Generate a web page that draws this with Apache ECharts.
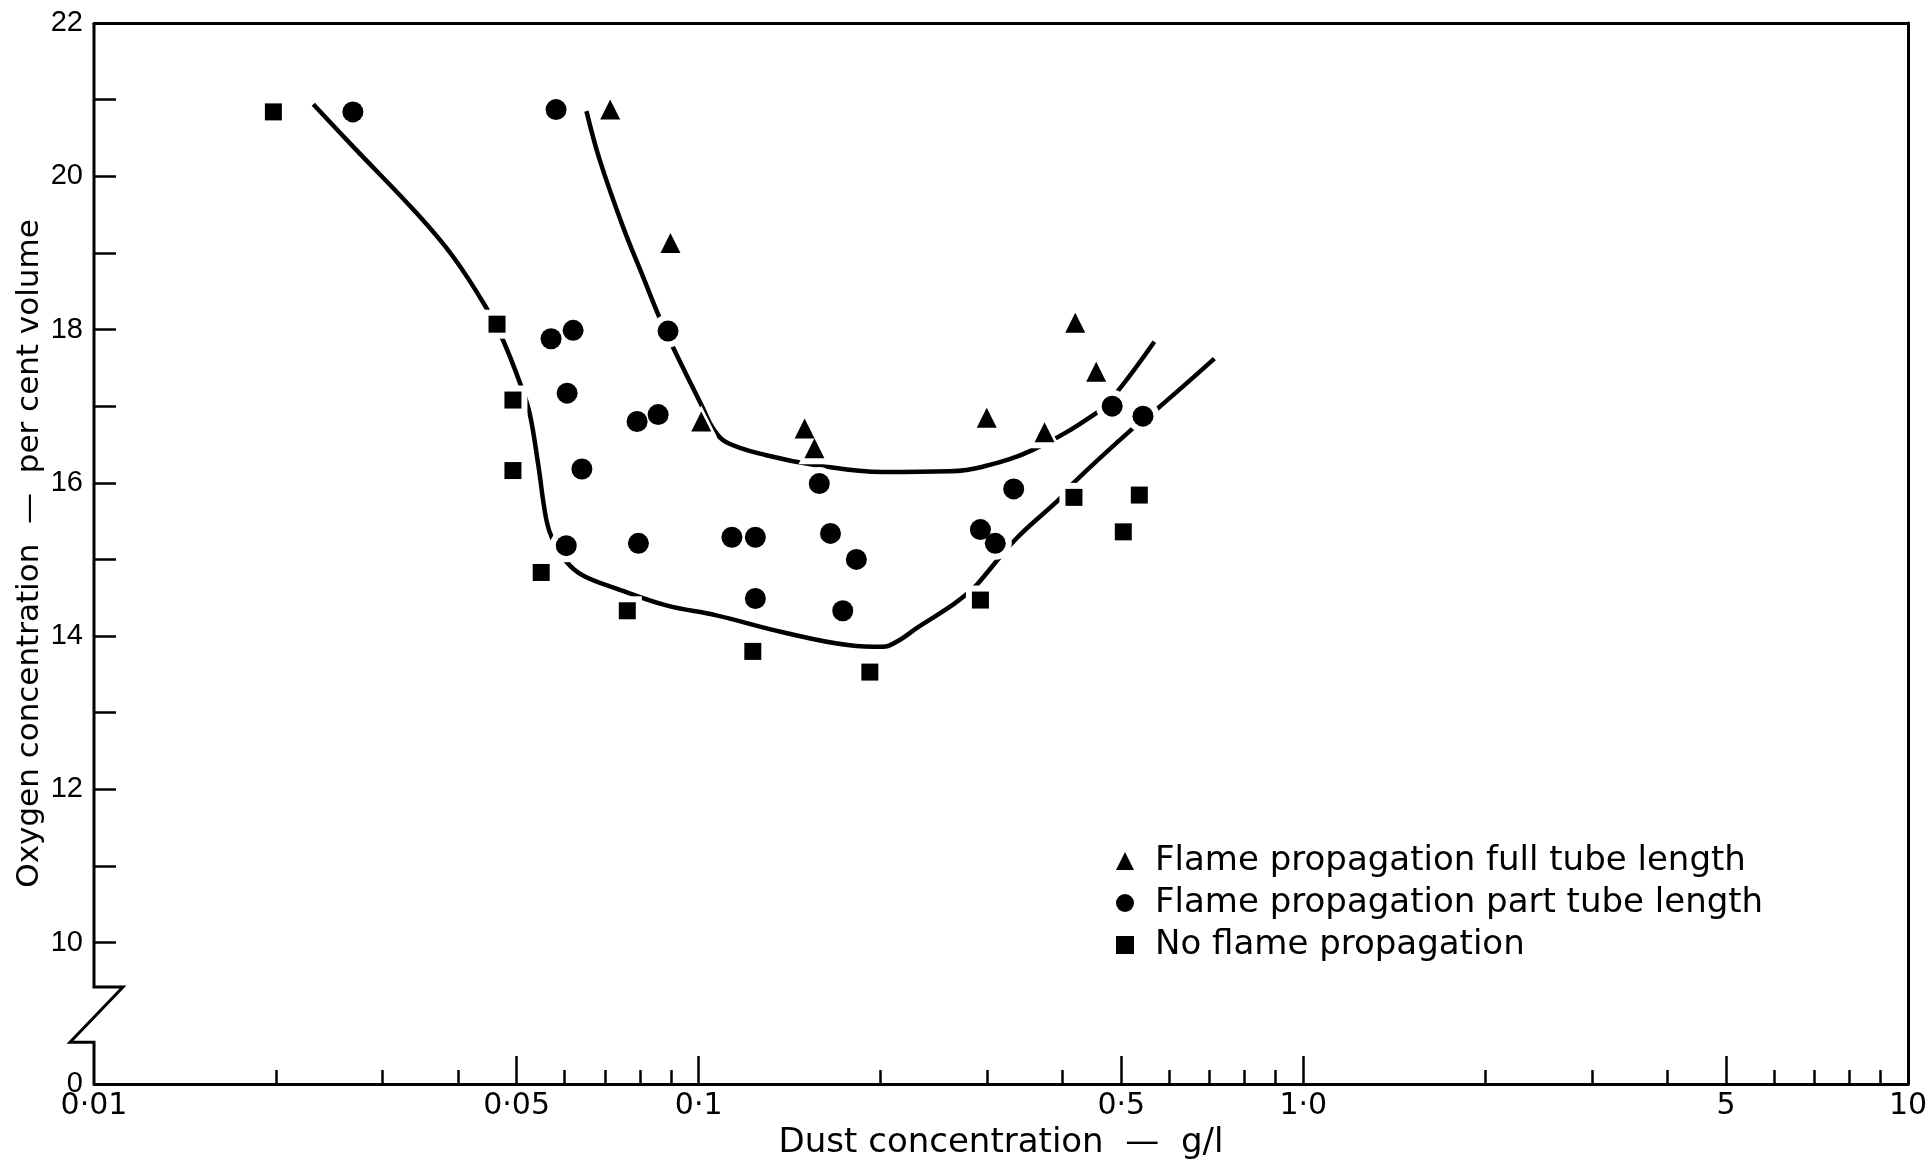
<!DOCTYPE html>
<html><head><meta charset="utf-8">
<script src="https://cdn.jsdelivr.net/npm/echarts@6/dist/echarts.min.js"></script>
<style>html,body{margin:0;padding:0;background:#fff}#c{width:1930px;height:1160px}</style>
</head><body><div id="c"></div>
<script>
// ---------------- data ----------------
const fullTubeX = [0.0714, 0.0898, 0.1010, 0.1497, 0.1554, 0.2995, 0.3733, 0.4196, 0.4544];
const fullTubeY = [20.87, 19.13, 16.80, 16.71, 16.45, 16.85, 16.66, 18.09, 17.45];

const partTubeX = [0.0268, 0.0581, 0.0570, 0.0620, 0.0606, 0.0641, 0.0604, 0.0791, 0.0857, 0.0890, 0.0795, 0.1135, 0.1241, 0.1241, 0.1583, 0.1652, 0.1823, 0.1731, 0.2924, 0.3094, 0.3319, 0.4829, 0.543];
const partTubeY = [20.84, 20.87, 17.88, 17.99, 17.17, 16.18, 15.18, 16.80, 16.89, 17.98, 15.21, 15.29, 15.29, 14.49, 15.99, 15.34, 15.00, 14.33, 15.39, 15.21, 15.92, 17.00, 16.87];

const noFlameX = [0.0198, 0.0464, 0.0493, 0.0493, 0.0549, 0.0762, 0.1229, 0.1919, 0.2924, 0.4175, 0.5038, 0.5355];
const noFlameY = [20.84, 18.07, 17.08, 16.16, 14.83, 14.33, 13.80, 13.53, 14.47, 15.81, 15.36, 15.84];

const upperCurveX = [0.06522, 0.06862, 0.07497, 0.08089, 0.08620, 0.09069, 0.1017, 0.1056, 0.1111, 0.1294, 0.1565, 0.2017, 0.2601, 0.2951, 0.3569, 0.4544, 0.4903, 0.5670];
const upperCurveY = [20.85, 20.21, 19.34, 18.69, 18.15, 17.77, 16.97, 16.71, 16.53, 16.36, 16.23, 16.14, 16.15, 16.21, 16.43, 16.91, 17.17, 17.84];

const lowerCurveX = [0.02305, 0.02680, 0.03415, 0.03926, 0.04458, 0.04748, 0.05092, 0.05256, 0.05425, 0.05601, 0.05742, 0.06043, 0.06437, 0.07311, 0.08844, 0.1070, 0.1378, 0.1777, 0.2017, 0.2150, 0.2290, 0.2601, 0.2787, 0.2877, 0.3350, 0.3977, 0.4157, 0.5224, 0.5742, 0.7127];
const lowerCurveY = [20.94, 20.39, 19.52, 18.95, 18.28, 17.86, 17.25, 16.90, 16.25, 15.51, 15.25, 14.97, 14.79, 14.62, 14.40, 14.27, 14.05, 13.88, 13.86, 13.95, 14.10, 14.38, 14.56, 14.66, 15.27, 15.81, 15.99, 16.71, 16.97, 17.62];

const seriesNames = ['Flame propagation full tube length', 'Flame propagation part tube length', 'No flame propagation'];

// x axis ticks / labels (log scale)
const xLabelValues = [0.01, 0.05, 0.1, 0.5, 1, 5, 10];
const xLabelTexts  = ['0·01', '0·05', '0·1', '0·5', '1·0', '5', '10'];
const xMajorTicks  = [0.05, 0.1, 0.5, 1, 5];
const xMinorTicks  = [0.02, 0.03, 0.04, 0.06, 0.07, 0.08, 0.09, 0.2, 0.3, 0.4, 0.6, 0.7, 0.8, 0.9, 2, 3, 4, 6, 7, 8, 9];

// y axis (broken axis: bottom of axis shows "0")
const yAxisBottom = 8.155;   // position on the axis where "0" is written
const yBreakTop = 9.42;
const yBreakBottom = 8.70;
const yTickValues  = [10, 11, 12, 13, 14, 15, 16, 17, 18, 19, 20, 21, 22];
const yLabelValues = [yAxisBottom, 10, 12, 14, 16, 18, 20, 22];
const yLabelTexts  = ['0', '10', '12', '14', '16', '18', '20', '22'];

// ---------------- chart ----------------
const FONT = 'DejaVu Sans';
const NUM_FONT = 'Liberation Sans';
const zip = (xs, ys) => xs.map((x, i) => [x, ys[i]]);
const labelFor = (vals, texts) => v => {
  for (let i = 0; i < vals.length; i++) if (Math.abs(vals[i] - v) < 1e-6 * Math.max(1, Math.abs(v))) return texts[i];
  return '';
};

const chart = echarts.init(document.getElementById('c'), null, {renderer: 'canvas'});

const shapes = [
  {name: seriesNames[0], sym: 'triangle', size: 20, x: fullTubeX, y: fullTubeY},
  {name: seriesNames[1], sym: 'circle', size: 21, x: partTubeX, y: partTubeY},
  {name: seriesNames[2], sym: 'rect', size: 17, x: noFlameX, y: noFlameY}
];

const series = [
  {type: 'line', name: 'upper', data: zip(upperCurveX, upperCurveY), smooth: 0.4, symbol: 'none',
   lineStyle: {color: '#000', width: 4.5}, z: 2, silent: true},
  {type: 'line', name: 'lower', data: zip(lowerCurveX, lowerCurveY), smooth: 0.4, symbol: 'none',
   lineStyle: {color: '#000', width: 4.5}, z: 2, silent: true}
];
shapes.forEach(s => {
  series.push({type: 'scatter', name: 'halo-' + s.sym, data: zip(s.x, s.y), symbol: s.sym, symbolSize: s.size + 12,
    itemStyle: {color: '#fff', opacity: 1}, z: 3, silent: true});
});
shapes.forEach(s => {
  series.push({type: 'scatter', name: s.name, data: zip(s.x, s.y), symbol: s.sym, symbolSize: s.size,
    itemStyle: {color: '#000', opacity: 1}, z: 4});
});

const logBase = {type: 'log', logBase: 10, min: 0.01, max: 10, gridIndex: 0, splitLine: {show: false}, minorTick: {show: false}};

chart.setOption({
  animation: false,
  backgroundColor: '#fff',
  grid: {left: 94, right: 22, top: 23, bottom: 76, containLabel: false, outerBoundsMode: 'none'},
  legend: {
    data: seriesNames.map(n => ({name: n})),
    orient: 'vertical', left: 1111, top: 839,
    itemWidth: 18, itemHeight: 18, itemGap: 8,
    itemStyle: {borderWidth: 0, opacity: 1},
    textStyle: {fontFamily: FONT, fontSize: 34, color: '#000', padding: [0, 0, 0, 16]},
    selectedMode: false
  },
  xAxis: [
    Object.assign({}, logBase, {
      position: 'bottom',
      axisLine: {show: true, onZero: false, lineStyle: {color: '#000', width: 3}},
      axisTick: {show: true, inside: true, length: 28, customValues: xMajorTicks, lineStyle: {color: '#000', width: 2.5}},
      axisLabel: {show: true, customValues: xLabelValues, formatter: labelFor(xLabelValues, xLabelTexts),
        fontFamily: FONT, fontSize: 30, color: '#000', margin: 7},
      name: 'Dust concentration  —  g/l', nameLocation: 'middle', nameGap: 38,
      nameTextStyle: {fontFamily: FONT, fontSize: 34, color: '#000'}
    }),
    Object.assign({}, logBase, {
      position: 'bottom',
      axisLine: {show: false},
      axisTick: {show: true, inside: true, length: 14, customValues: xMinorTicks, lineStyle: {color: '#000', width: 2.5}},
      axisLabel: {show: false}
    }),
    Object.assign({}, logBase, {
      position: 'top',
      axisLine: {show: true, onZero: false, lineStyle: {color: '#000', width: 3}},
      axisTick: {show: false}, axisLabel: {show: false}
    })
  ],
  yAxis: [
    {
      type: 'value', min: yAxisBottom, max: 22, position: 'left', splitLine: {show: false},
      axisLine: {show: false},
      axisTick: {show: true, inside: true, length: 22, customValues: yTickValues, lineStyle: {color: '#000', width: 2.5}},
      axisLabel: {show: true, customValues: yLabelValues, formatter: labelFor(yLabelValues, yLabelTexts),
        fontFamily: NUM_FONT, fontSize: 29, color: '#000', margin: 11},
      name: 'Oxygen concentration  —  per cent volume', nameLocation: 'middle', nameGap: 49,
      nameMoveOverlap: false,
      nameTextStyle: {fontFamily: FONT, fontSize: 31, color: '#000'}
    },
    {
      type: 'value', min: yAxisBottom, max: 22, position: 'right', splitLine: {show: false},
      axisLine: {show: true, onZero: false, lineStyle: {color: '#000', width: 3}},
      axisTick: {show: false}, axisLabel: {show: false}
    }
  ],
  series: series
});

// broken left axis line with zigzag
const x0 = chart.convertToPixel({xAxisIndex: 0}, 0.01);
const py = v => chart.convertToPixel({yAxisIndex: 0}, v);
const pts = [
  [x0, py(22)], [x0, py(yBreakTop)], [x0 + 29, py(yBreakTop)],
  [x0 - 24, py(yBreakBottom)], [x0, py(yBreakBottom)], [x0, py(yAxisBottom)]
];
chart.setOption({
  graphic: [{type: 'polyline', shape: {points: pts}, style: {stroke: '#000', lineWidth: 3, fill: null, lineJoin: 'miter'}, z: 10, silent: true}]
});
</script>
</body></html>
